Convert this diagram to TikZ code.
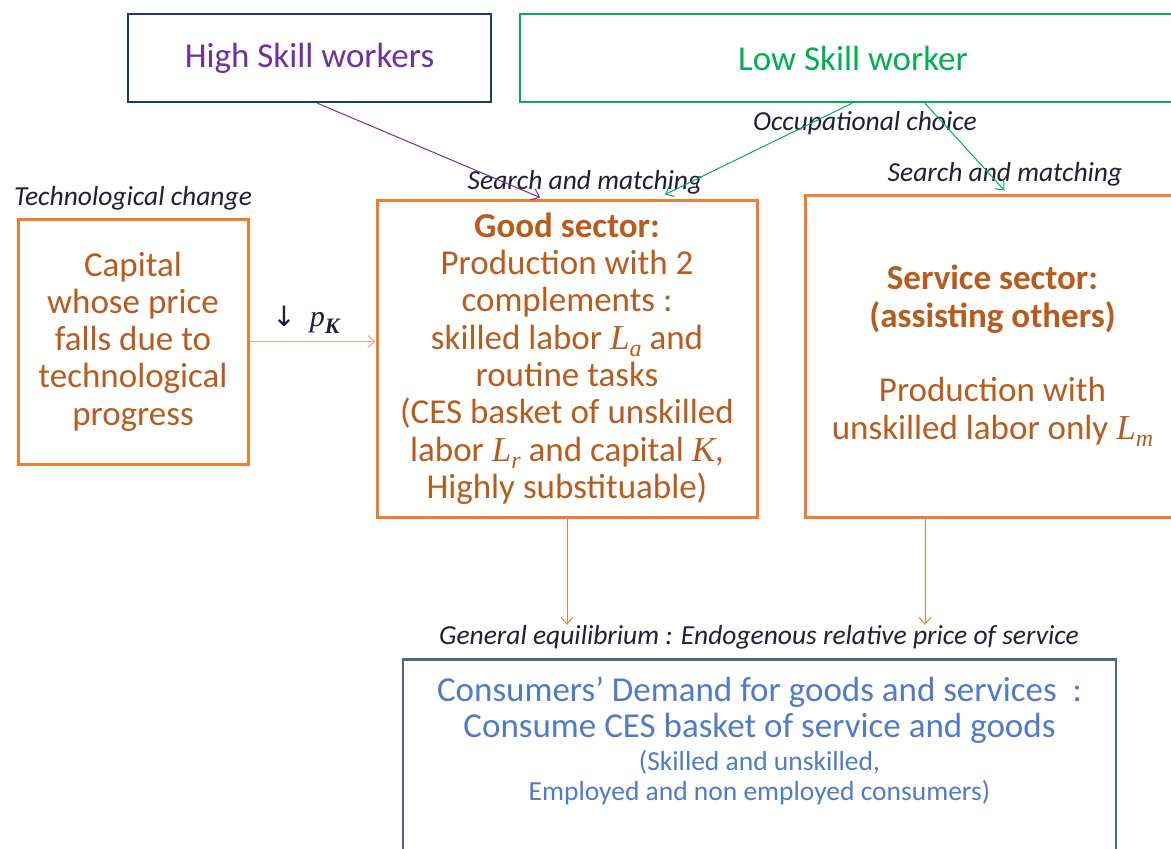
\documentclass[tikz,border=0pt]{standalone}
\usepackage{fontspec}
\setmainfont{Carlito}
\newfontfamily\mfont{Liberation Serif}
\newfontfamily\symfont{DejaVu Sans}
\usetikzlibrary{arrows.meta}
\definecolor{orbox}{HTML}{ED7D31}
\definecolor{ortext}{HTML}{B85C1E}
\definecolor{orarrow}{HTML}{F2A077}
\definecolor{navy}{HTML}{203864}
\definecolor{purp}{HTML}{7030A0}
\definecolor{grn}{HTML}{00B050}
\definecolor{consedge}{HTML}{4A6790}
\definecolor{constxt}{HTML}{4F7BC8}
\definecolor{lbl}{HTML}{1F2038}
\newcommand\boxfont{\fontsize{35}{37.3}\selectfont}
\newcommand\lblfont{\fontsize{27.5}{30}\selectfont\itshape}
\newcommand\smallfont{\fontsize{27.5}{30}\selectfont}
\newcommand\mvar[1]{{\mfont\itshape #1}}
\newcommand\msub[2]{{\mfont\itshape #1\raisebox{-0.22em}{\fontsize{24}{24}\selectfont #2}}}
\tikzset{
  basebox/.style={draw, rectangle, align=center, inner sep=0pt},
  orangebox/.style={basebox, draw=orbox, line width=3pt, text=ortext, font=\boxfont},
  lbltext/.style={text=lbl, font=\lblfont, inner sep=0pt},
  conn/.style={line width=1pt, -{Straight Barb[length=7pt,width=12pt]}},
}
\begin{document}
\begin{tikzpicture}[x=1pt,y=-1pt]
\clip (0,0) rectangle (1171,849);
\fill[white] (0,0) rectangle (1171,849);

% top boxes
\node[basebox, draw=navy, line width=2.5pt, text=purp, font=\boxfont,
      minimum width=363, minimum height=88] (high) at (309.5,58) {High Skill workers};
\node[basebox, draw=grn, line width=2.5pt, text=grn, font=\boxfont,
      minimum width=660, minimum height=88] (low) at (850,58) {\hspace*{6pt}Low Skill worker};

% middle boxes
\node[orangebox, minimum width=230, minimum height=245] (cap) at (133,341.5)
  {Capital\\whose price\\falls due to\\technological\\progress};
\node[orangebox, minimum width=380, minimum height=317] (good) at (567,358.5)
  {\textbf{Good sector:}\\Production with 2\\complements :\\skilled labor \msub{L}{a} and\\routine tasks\\(CES basket of unskilled\\labor \msub{L}{r} and capital \mvar{K},\\Highly substituable)};
\node[orangebox, minimum width=375, minimum height=322] (serv) at (992.5,356)
  {\textbf{Service sector:}\\\textbf{(assisting others)}\\[37.3pt]Production with\\unskilled labor only \msub{L}{m}};

% consumers box
\node[basebox, draw=consedge, line width=2.5pt, minimum width=713, minimum height=240,
      anchor=north] (cons) at (759.5,658) {};
\node[align=center, text=constxt, inner sep=0pt, font=\boxfont] (constext) at (759.5,741)
  {{Consumers’ Demand for goods and services\ \ :}\\[-1.3pt]
   {Consume CES basket of service and goods}\\[-4.3pt]
   {\smallfont (Skilled and unskilled,}\\[-7.3pt]
   {\smallfont Employed and non employed consumers)}};

% labels
\node[lbltext] (techlbl) at (133,198) {Technological change};
\node[lbltext] (occlbl) at (865,123) {Occupational choice};
\node[lbltext] (sm1) at (585,182) {Search and matching};
\node[lbltext] (sm2) at (1005,174) {Search and matching};
\node[lbltext] (geq) at (759,637) {General equilibrium : Endogenous relative price of service};
\node[text=lbl, inner sep=0pt, font=\fontsize{30}{32}\selectfont] (pk) at (306,320)
  {{\symfont\fontsize{28}{30}\selectfont ↓}\hspace{14pt}{\mfont\itshape p\raisebox{-0.22em}{\fontsize{22}{22}\selectfont\bfseries K}}};

% connectors
\draw[conn, purp] ([xshift=8pt]high.south) -- ([xshift=-27pt,yshift=1pt]good.north);
\draw[conn, grn] ([xshift=2pt]low.south) -- ([xshift=98pt,yshift=4pt]good.north);
\draw[conn, grn] ([xshift=75pt]low.south) -- ([xshift=12pt,yshift=3pt]serv.north);
\draw[conn, orarrow] (cap.east) -- (cap.east -| good.west);
\draw[conn, orbox] (good.south) -- (good.south |- geq.north);
\draw[conn, orbox] ([xshift=-67.5pt]serv.south) -- ([xshift=-67.5pt]serv.south |- geq.north);
\end{tikzpicture}
\end{document}
